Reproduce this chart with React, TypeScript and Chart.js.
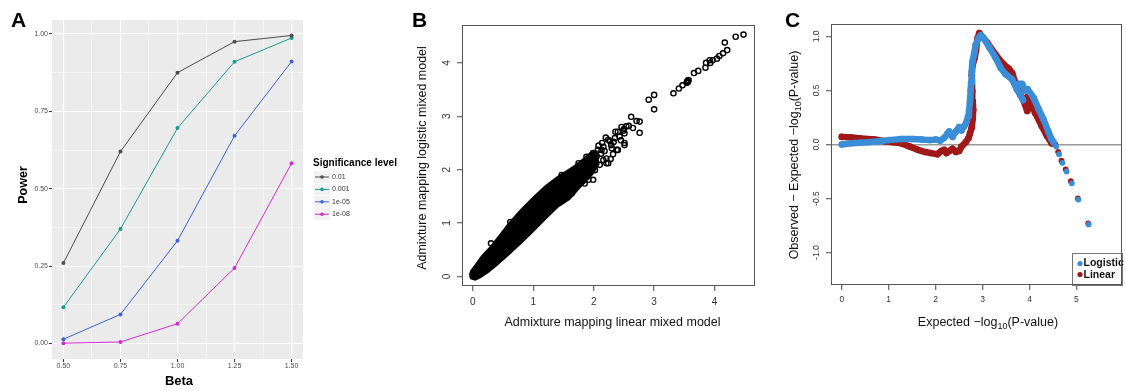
import React, { useEffect, useRef } from 'react';
import { Chart, registerables } from 'chart.js';

Chart.register(...registerables);

const FONT = '"Liberation Sans", Arial, Helvetica, sans-serif';
Chart.defaults.font.family = FONT;

// ---------------- Panel A data ----------------
const BETA = [0.5, 0.75, 1.0, 1.25, 1.5];
const SIG_LEVELS = ['0.01', '0.001', '1e-05', '1e-08'];
const POWER_1E2 = [0.26, 0.62, 0.875, 0.975, 0.995];
const POWER_1E3 = [0.117, 0.37, 0.696, 0.91, 0.987];
const POWER_1E5 = [0.014, 0.094, 0.332, 0.671, 0.911];
const POWER_1E8 = [0.001, 0.005, 0.064, 0.244, 0.582];
const A_X_TICKS = [0.5, 0.625, 0.75, 0.875, 1.0, 1.125, 1.25, 1.375, 1.5];
const A_X_MAJOR = [0.5, 0.75, 1.0, 1.25, 1.5];
const A_Y_TICKS = [0, 0.125, 0.25, 0.375, 0.5, 0.625, 0.75, 0.875, 1.0];
const A_Y_MAJOR = [0, 0.25, 0.5, 0.75, 1.0];

// ---------------- Panel B data ----------------
// dense cloud outline (upper edge left->right, then lower edge right->left)
const BAND_X = [-0.05, -0.03, 0.05, 0.15, 0.30, 0.45, 0.60, 0.80, 1.00, 1.20, 1.40, 1.55, 1.70, 1.85, 1.95, 2.05,
  2.08, 1.99, 1.87, 1.77, 1.60, 1.40, 1.20, 1.00, 0.80, 0.60, 0.40, 0.25, 0.12, 0.04, -0.03, -0.05];
const BAND_Y = [0.02, 0.10, 0.22, 0.38, 0.56, 0.78, 1.00, 1.25, 1.48, 1.69, 1.86, 1.97, 2.08, 2.22, 2.32, 2.34,
  2.10, 1.93, 1.78, 1.67, 1.45, 1.30, 1.08, 0.85, 0.63, 0.42, 0.22, 0.08, -0.02, -0.06, -0.04, 0.02];
const OUT_X = [4.48, 4.35, 4.17, 4.21, 4.14, 4.08, 4.04, 3.97, 3.92, 3.86, 3.85, 3.93, 3.73, 3.66, 3.57, 3.55, 3.56, 3.54,
  3.47, 3.41, 3.32, 3.00, 2.91, 3.00, 2.62, 2.76, 2.71, 2.76, 2.65, 2.54, 2.58, 2.46, 2.36, 2.49, 2.50, 2.51, 2.40, 2.32,
  2.24, 2.29, 2.16, 2.21, 2.10, 2.02, 2.02, 1.99, 1.91, 1.85, 1.52, 1.22, 2.35, 2.27, 2.13, 2.16, 1.94, 1.83, 1.69, 1.64,
  1.23, 0.92, 0.84, 1.34, 1.47, 1.88, 2.07, 2.21, 2.24, 2.38, 2.40, 2.51, 2.51, 1.99, 0.62, 0.30, 1.75,
  2.05, 2.12, 2.18, 2.08, 2.30, 2.43, 2.20, 1.95, 2.28, 2.14, 2.33, 2.45];
const OUT_Y = [4.53, 4.49, 4.38, 4.24, 4.18, 4.13, 4.08, 4.05, 4.05, 4.00, 3.91, 4.00, 3.85, 3.81, 3.68, 3.66, 3.64, 3.63,
  3.58, 3.52, 3.43, 3.40, 3.31, 3.13, 2.99, 2.90, 2.91, 2.69, 2.78, 2.81, 2.82, 2.80, 2.71, 2.73, 2.76, 2.50, 2.37, 2.29,
  2.56, 2.46, 2.43, 2.12, 2.09, 2.12, 1.99, 1.81, 1.81, 1.74, 1.90, 1.59, 2.59, 2.53, 2.37, 2.18, 1.96, 1.81, 1.74, 1.56,
  1.60, 1.28, 1.18, 1.74, 1.90, 2.24, 2.37, 2.21, 2.12, 2.37, 2.71, 2.68, 2.46, 2.31, 1.02, 0.62, 2.12,
  2.25, 2.30, 2.35, 2.45, 2.40, 2.62, 2.60, 2.10, 2.20, 2.50, 2.52, 2.55];
const B_TICKS = [0, 1, 2, 3, 4];

// ---------------- Panel C data ----------------
const LOGI_X = [0.00, 0.20, 0.40, 0.56, 0.80, 1.00, 1.27, 1.50, 1.70, 1.87, 2.01, 2.10, 2.18, 2.25, 2.29, 2.36, 2.43, 2.50,
  2.55, 2.61, 2.66, 2.69, 2.71, 2.73, 2.745, 2.755, 2.77, 2.78, 2.82, 2.85, 2.91, 2.96, 3.03, 3.14, 3.28, 3.38, 3.49,
  3.63, 3.73, 3.80, 3.86, null, 3.77, 3.84, 3.91, 3.96, 4.09, 4.19, 4.30, 4.40, 4.46, 4.51];
const LOGI_Y = [0.00, 0.01, 0.015, 0.02, 0.03, 0.04, 0.05, 0.05, 0.045, 0.04, 0.045, 0.035, 0.06, 0.10, 0.12, 0.07, 0.12, 0.16,
  0.13, 0.17, 0.21, 0.26, 0.31, 0.39, 0.50, 0.57, 0.67, 0.76, 0.84, 0.92, 0.98, 1.01, 0.98, 0.90, 0.80, 0.71, 0.65,
  0.60, 0.51, 0.46, 0.41, null, 0.56, 0.56, 0.50, 0.51, 0.43, 0.33, 0.23, 0.12, 0.055, 0.02];
const LOGI_TAIL_X = [4.57, 4.63, 4.70, 4.79, 4.90, 5.04, 5.26];
const LOGI_TAIL_Y = [-0.02, -0.09, -0.17, -0.25, -0.36, -0.51, -0.74];
const LIN_X = [0.00, 0.20, 0.42, 0.70, 0.92, 1.10, 1.27, 1.45, 1.62, 1.78, 1.90, 2.04, 2.12, 2.18, 2.23, 2.29, 2.36, 2.43,
  2.50, 2.55, 2.64, 2.70, 2.73, 2.77, 2.79, 2.80, 2.79, 2.78, 2.77, 2.78, 2.83, 2.86, 2.89, 2.93, 3.10, 3.28, 3.45, 3.56,
  3.63, 3.73, 3.85, 3.95, null, 3.96, 4.12, 4.26, 4.37, 4.47];
const LIN_Y = [0.07, 0.065, 0.055, 0.045, 0.03, 0.02, 0.01, -0.02, -0.05, -0.07, -0.08, -0.09, -0.06, -0.05, -0.08, -0.06, -0.04, -0.07,
  -0.06, -0.02, 0.02, 0.06, 0.10, 0.16, 0.24, 0.32, 0.40, 0.49, 0.64, 0.72, 0.80, 0.87, 0.98, 1.03, 0.94, 0.83, 0.74, 0.70,
  0.66, 0.53, 0.43, 0.31, null, 0.44, 0.29, 0.17, 0.08, 0.01];
const LIN_TAIL_X = [4.55, 4.61, 4.68, 4.77, 4.88, 5.03, 5.25];
const LIN_TAIL_Y = [0.00, -0.07, -0.15, -0.23, -0.34, -0.50, -0.73];
const C_X_TICKS = [0, 1, 2, 3, 4, 5];
const C_Y_TICKS = [-1, -0.5, 0, 0.5, 1];

// ---------------- helpers ----------------
const zip = (xs: (number | null)[], ys: (number | null)[]) => xs.map((x, i) => ({ x, y: ys[i] }));

type Seg = { t: string; sub?: boolean };
function drawText(ctx: CanvasRenderingContext2D, segs: Seg[] | string, x: number, y: number, size: number,
  opts: { bold?: boolean; rot?: boolean; color?: string; align?: 'left' | 'center' | 'right' } = {}) {
  const list: Seg[] = typeof segs === 'string' ? [{ t: segs }] : segs;
  const w = opts.bold ? 'bold ' : '';
  const mainFont = `${w}${size}px ${FONT}`;
  const subFont = `${w}${size * 0.72}px ${FONT}`;
  ctx.save();
  ctx.fillStyle = opts.color || '#000';
  ctx.textBaseline = 'middle';
  ctx.textAlign = 'left';
  const widths = list.map((s) => { ctx.font = s.sub ? subFont : mainFont; return ctx.measureText(s.t).width; });
  const total = widths.reduce((a, b) => a + b, 0);
  ctx.translate(x, y);
  if (opts.rot) ctx.rotate(-Math.PI / 2);
  let cx = opts.align === 'left' ? 0 : opts.align === 'right' ? -total : -total / 2;
  list.forEach((s, i) => {
    ctx.font = s.sub ? subFont : mainFont;
    ctx.fillText(s.t, cx, s.sub ? size * 0.3 : 0);
    cx += widths[i];
  });
  ctx.restore();
}

const A_COLORS = ['#4D4D4D', '#1B9A8B', '#4062D8', '#D02DD0'];
const BLUE = '#3A8ED8';
const RED = '#A01818';

export default function App() {
  const refA = useRef<HTMLCanvasElement>(null);
  const refB = useRef<HTMLCanvasElement>(null);
  const refC = useRef<HTMLCanvasElement>(null);

  useEffect(() => {
    const charts: Chart[] = [];
    const seriesA = [POWER_1E2, POWER_1E3, POWER_1E5, POWER_1E8];

    // ---------- Panel A ----------
    const panelAPlugin = {
      id: 'panelA',
      beforeDraw(chart: any) {
        const { ctx, chartArea: a } = chart;
        ctx.save();
        ctx.fillStyle = '#EBEBEB';
        ctx.fillRect(a.left, a.top, a.right - a.left, a.bottom - a.top);
        ctx.restore();
      },
      afterDraw(chart: any) {
        const ctx = chart.ctx;
        drawText(ctx, 'A', 11, 21, 21, { bold: true, align: 'left' });
        drawText(ctx, 'Power', 23.5, 185, 12.5, { bold: true, rot: true });
        drawText(ctx, 'Beta', 179, 381, 13, { bold: true });
        drawText(ctx, 'Significance level', 313, 163, 10, { bold: true, align: 'left' });
        chart.data.datasets.forEach((ds: any, i: number) => {
          const y = 177 + i * 12.4;
          ctx.save();
          ctx.fillStyle = '#F2F2F2';
          ctx.fillRect(314, y - 6, 16, 12);
          ctx.strokeStyle = ds.borderColor;
          ctx.lineWidth = 1;
          ctx.beginPath(); ctx.moveTo(315, y); ctx.lineTo(329, y); ctx.stroke();
          ctx.fillStyle = ds.borderColor;
          ctx.beginPath(); ctx.arc(322, y, 1.8, 0, Math.PI * 2); ctx.fill();
          ctx.restore();
          drawText(ctx, ds.label, 332, y, 7, { align: 'left', color: '#333' });
        });
      },
    };

    const gridA = (major: number[]) => ({
      color: '#FFFFFF',
      lineWidth: (c: any) => (major.includes(c.tick?.value) ? 1.1 : 0.5),
      tickColor: (c: any) => (major.includes(c.tick?.value) ? '#333333' : 'rgba(0,0,0,0)'),
      tickWidth: 1,
      tickLength: 3,
      drawTicks: true,
      drawOnChartArea: true,
    });

    charts.push(new Chart(refA.current!, {
      type: 'scatter',
      data: {
        datasets: seriesA.map((s, i) => ({
          label: SIG_LEVELS[i],
          data: zip(BETA, s),
          showLine: true,
          borderColor: A_COLORS[i],
          backgroundColor: A_COLORS[i],
          borderWidth: 1,
          pointRadius: 2,
          pointBorderWidth: 0,
          pointBackgroundColor: A_COLORS[i],
        })),
      },
      options: {
        animation: false,
        responsive: false,
        devicePixelRatio: 1,
        layout: { padding: { left: 0, top: 20, right: 107, bottom: 0 } },
        plugins: { legend: { display: false }, tooltip: { enabled: false } },
        scales: {
          x: {
            type: 'linear', min: 0.45, max: 1.55,
            afterBuildTicks: (s: any) => { s.ticks = A_X_TICKS.map((v) => ({ value: v })); },
            afterFit: (s: any) => { s.height = 32; },
            grid: gridA(A_X_MAJOR) as any,
            border: { display: false },
            ticks: {
              autoSkip: false, maxRotation: 0, padding: 0, color: '#4D4D4D', font: { size: 7 },
              callback: (v: any) => (A_X_MAJOR.includes(v) ? Number(v).toFixed(2) : ''),
            },
          },
          y: {
            type: 'linear', min: -0.05, max: 1.045,
            afterBuildTicks: (s: any) => { s.ticks = A_Y_TICKS.map((v) => ({ value: v })); },
            afterFit: (s: any) => { s.width = 52; },
            grid: gridA(A_Y_MAJOR) as any,
            border: { display: false },
            ticks: {
              autoSkip: false, padding: 1, color: '#4D4D4D', font: { size: 7 },
              callback: (v: any) => (A_Y_MAJOR.includes(v) ? Number(v).toFixed(2) : ''),
            },
          },
        },
      } as any,
      plugins: [panelAPlugin],
    }));

    // ---------- frame plugin for R-style panels ----------
    const framePlugin = (id: string, labelX: number, tickSize: number, extra: (ctx: CanvasRenderingContext2D, a: any) => void) => ({
      id,
      afterDraw(chart: any) {
        const { ctx, chartArea: a } = chart;
        extra(ctx, a);
        ctx.save();
        ctx.strokeStyle = '#555555';
        ctx.lineWidth = 1;
        ctx.strokeRect(Math.round(a.left) + 0.5, Math.round(a.top) + 0.5, Math.round(a.right - a.left) - 1, Math.round(a.bottom - a.top) - 1);
        ctx.restore();
        const ys = chart.scales.y;
        ys.ticks.forEach((t: any) => {
          drawText(ctx, String(t.label), labelX, ys.getPixelForValue(t.value), tickSize, { rot: true, color: '#333' });
        });
      },
    });

    const rScale = (min: number, max: number, ticks: number[], fit: (s: any) => void, fmt: (v: number) => string, tickSize: number, showLabels: boolean, gridColor?: any) => ({
      type: 'linear', min, max,
      afterBuildTicks: (s: any) => { s.ticks = ticks.map((v) => ({ value: v })); },
      afterFit: fit,
      grid: {
        drawOnChartArea: !!gridColor,
        color: gridColor || 'rgba(0,0,0,0)',
        lineWidth: 1.5,
        drawTicks: true,
        tickLength: 5,
        tickColor: '#444444',
        tickWidth: 1,
      },
      border: { display: false },
      ticks: {
        autoSkip: false, maxRotation: 0, padding: 5,
        color: showLabels ? '#333333' : 'rgba(0,0,0,0)',
        font: { size: tickSize },
        callback: (v: any) => fmt(Number(v)),
      },
    });

    // ---------- Panel B ----------
    charts.push(new Chart(refB.current!, {
      type: 'scatter',
      data: {
        datasets: [
          {
            label: 'cloud',
            data: zip(BAND_X, BAND_Y),
            showLine: true,
            fill: 'shape',
            backgroundColor: '#000000',
            borderColor: '#000000',
            borderWidth: 2,
            pointRadius: 0,
          },
          {
            label: 'points',
            data: zip(OUT_X, OUT_Y),
            showLine: false,
            pointRadius: 2.6,
            pointBorderWidth: 1.4,
            pointBorderColor: '#000000',
            pointBackgroundColor: 'rgba(0,0,0,0)',
          },
        ],
      },
      options: {
        animation: false,
        responsive: false,
        devicePixelRatio: 1,
        layout: { padding: { left: 0, top: 25, right: 15, bottom: 0 } },
        plugins: { legend: { display: false }, tooltip: { enabled: false } },
        scales: {
          x: rScale(-0.18, 4.67, B_TICKS, (s) => { s.height = 105; }, (v) => String(v), 10, true),
          y: rScale(-0.18, 4.71, B_TICKS, (s) => { s.width = 52; }, (v) => String(v), 10, false),
        },
      } as any,
      plugins: [framePlugin('frameB', 37, 10, (ctx) => {
        drawText(ctx, 'B', 2, 21, 21, { bold: true, align: 'left' });
        drawText(ctx, 'Admixture mapping logistic mixed model', 13, 158, 12.5, { rot: true, color: '#111' });
        drawText(ctx, 'Admixture mapping linear mixed model', 202.5, 323, 12.5, { color: '#111' });
      })],
    }));

    // ---------- Panel C ----------
    const denseLine = (label: string, xs: any[], ys: any[], color: string) => ({
      label,
      data: zip(xs, ys),
      showLine: true,
      spanGaps: false,
      borderColor: color,
      borderWidth: 6.5,
      borderCapStyle: 'round',
      borderJoinStyle: 'round',
      pointRadius: 3.3,
      pointBorderWidth: 0,
      pointBackgroundColor: color,
    });
    const tailPoints = (label: string, xs: number[], ys: number[], color: string) => ({
      label,
      data: zip(xs, ys),
      showLine: false,
      pointRadius: 2.9,
      pointBorderWidth: 0,
      pointBackgroundColor: color,
    });

    charts.push(new Chart(refC.current!, {
      type: 'scatter',
      data: {
        datasets: [
          denseLine('Logistic', LOGI_X, LOGI_Y, BLUE),
          tailPoints('Logistic tail', LOGI_TAIL_X, LOGI_TAIL_Y, BLUE),
          denseLine('Linear', LIN_X, LIN_Y, RED),
          tailPoints('Linear tail', LIN_TAIL_X, LIN_TAIL_Y, RED),
        ] as any,
      },
      options: {
        animation: false,
        responsive: false,
        devicePixelRatio: 1,
        layout: { padding: { left: 0, top: 24, right: 2, bottom: 0 } },
        plugins: { legend: { display: false }, tooltip: { enabled: false } },
        scales: {
          x: rScale(-0.23, 5.97, C_X_TICKS, (s) => { s.height = 106; }, (v) => String(v), 8.5, true),
          y: rScale(-1.30, 1.114, C_Y_TICKS, (s) => { s.width = 61; }, (v) => v.toFixed(1), 8.5, false,
            (c: any) => (c.tick && c.tick.value === 0 ? '#9A9A9A' : 'rgba(0,0,0,0)')),
        },
      } as any,
      plugins: [framePlugin('frameC', 46.7, 8.5, (ctx, a) => {
        drawText(ctx, 'C', 15, 21, 21, { bold: true, align: 'left' });
        drawText(ctx, [{ t: 'Observed \u2212 Expected \u2212log' }, { t: '10', sub: true }, { t: '(P-value)' }], 25, 155, 12.5, { rot: true, color: '#111' });
        drawText(ctx, [{ t: 'Expected \u2212log' }, { t: '10', sub: true }, { t: '(P-value)' }], 218, 323, 12.5, { color: '#111' });
        // legend box
        const L = 302, T = 253;
        ctx.save();
        ctx.fillStyle = '#FFFFFF';
        ctx.fillRect(L, T, a.right - L, a.bottom - T);
        ctx.strokeStyle = '#777777';
        ctx.lineWidth = 1;
        ctx.strokeRect(L + 0.5, T + 0.5, a.right - L, a.bottom - T);
        ctx.fillStyle = BLUE;
        ctx.beginPath(); ctx.arc(310, 263.5, 2.6, 0, Math.PI * 2); ctx.fill();
        ctx.fillStyle = RED;
        ctx.beginPath(); ctx.arc(310, 274.5, 2.6, 0, Math.PI * 2); ctx.fill();
        ctx.restore();
        drawText(ctx, 'Logistic', 313.5, 263.5, 10.5, { bold: true, align: 'left', color: '#111' });
        drawText(ctx, 'Linear', 313.5, 275, 10.5, { bold: true, align: 'left', color: '#111' });
      })],
    }));

    return () => { charts.forEach((c) => c.destroy()); };
  }, []);

  const cv = (left: number, width: number): React.CSSProperties => ({ position: 'absolute', left, top: 0, width, height: 391, display: 'block' });

  return (
    <div style={{ position: 'absolute', left: 0, top: 0, width: 1126, height: 391, background: '#FFFFFF', overflow: 'hidden' }}>
      <canvas ref={refA} width={410} height={391} style={cv(0, 410)} />
      <canvas ref={refB} width={360} height={391} style={cv(410, 360)} />
      <canvas ref={refC} width={356} height={391} style={cv(770, 356)} />
    </div>
  );
}
